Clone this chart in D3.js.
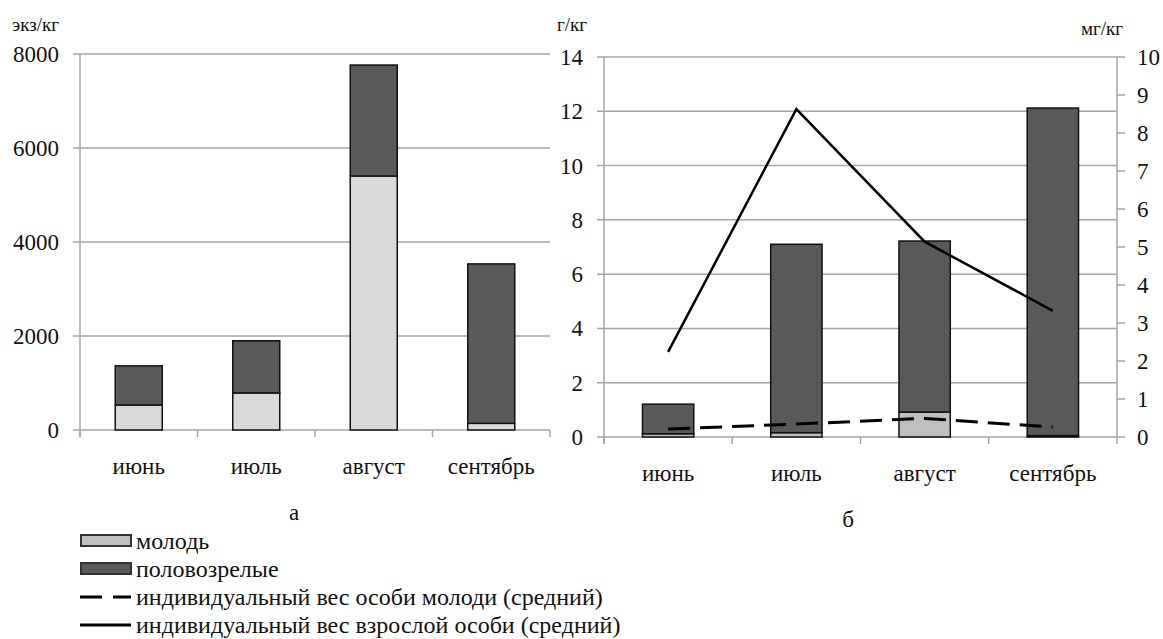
<!DOCTYPE html>
<html>
<head>
<meta charset="utf-8">
<script src="https://cdn.jsdelivr.net/npm/d3@7/dist/d3.min.js"></script>
<style>
  html, body { margin: 0; padding: 0; background: #fff; }
  svg { display: block; }
</style>
</head>
<body>
<svg id="chart" width="1163" height="639"></svg>
<script>
// Months of sampling
const months = ["июнь", "июль", "август", "сентябрь"];

// Panel а: abundance, экз/кг
const abundJuvenile = [533, 789, 5404, 142];
const abundAdult = [832, 1110, 2361, 3392];
const abundTicks = [0, 2000, 4000, 6000, 8000];

// Panel б: biomass, г/кг
const massJuvenile = [0.12, 0.16, 0.92, 0.05];
const massAdult = [1.09, 6.94, 6.30, 12.07];
const massTicks = [0, 2, 4, 6, 8, 10, 12, 14];

// Panel б: mean individual weight, мг/кг (right axis)
const weightJuvenile = [0.21, 0.34, 0.49, 0.26];
const weightAdult = [2.24, 8.63, 5.14, 3.32];
const weightTicks = [0, 1, 2, 3, 4, 5, 6, 7, 8, 9, 10];

const legendItems = [
  { label: "молодь", kind: "box", fill: "#bfbfbf" },
  { label: "половозрелые", kind: "box", fill: "#595959" },
  { label: "индивидуальный вес особи молоди (средний)", kind: "dash" },
  { label: "индивидуальный вес взрослой особи (средний)", kind: "line" }
];

const FONT = "Liberation Serif";
const svg = d3.select("#chart");
const GRID = "#a6a6a6";
const DARK = "#595959";
const INK = "#111";

function label(sel) {
  return sel.attr("font-family", FONT).attr("fill", INK);
}

function panel(opts) {
  const g = svg.append("g");
  const slot = d3.scaleBand().domain(months).range([opts.x0, opts.x1]).padding(0);
  const band = d3.scaleBand().domain(months).range([opts.x0, opts.x1])
    .paddingInner(0.6).paddingOuter(0.3);
  const y = d3.scaleLinear().domain([0, opts.max]).range([opts.yb, opts.yt]);

  // horizontal gridlines with outward tick stubs
  g.selectAll("line.grid").data(opts.ticks).join("line")
    .attr("x1", opts.x0 - 7).attr("x2", opts.gridEnd)
    .attr("y1", d => y(d)).attr("y2", d => y(d))
    .attr("stroke", GRID).attr("stroke-width", 1.5);

  // left axis line
  g.append("line").attr("x1", opts.x0).attr("x2", opts.x0)
    .attr("y1", opts.yt).attr("y2", opts.yb + 7)
    .attr("stroke", GRID).attr("stroke-width", 1.5);

  // left tick labels
  g.selectAll("text.yl").data(opts.ticks).join("text")
    .attr("x", opts.x0 - opts.labelGap).attr("y", d => y(d))
    .attr("dy", "0.35em").attr("text-anchor", "end")
    .attr("font-size", 23).call(label)
    .text(d => d);

  // category boundary ticks on the x axis
  const bounds = months.map(m => slot(m)).concat([opts.x1]);
  g.selectAll("line.xt").data(bounds).join("line")
    .attr("x1", d => d).attr("x2", d => d)
    .attr("y1", opts.yb).attr("y2", opts.yb + 7)
    .attr("stroke", GRID).attr("stroke-width", 1.5);

  // stacked bars
  months.forEach((m, i) => {
    const j = opts.juv[i], a = opts.adult[i];
    g.append("rect")
      .attr("x", band(m)).attr("width", band.bandwidth())
      .attr("y", y(j)).attr("height", y(0) - y(j))
      .attr("fill", opts.juvFill).attr("stroke", INK).attr("stroke-width", 1.5);
    g.append("rect")
      .attr("x", band(m)).attr("width", band.bandwidth())
      .attr("y", y(j + a)).attr("height", y(j) - y(j + a))
      .attr("fill", DARK).attr("stroke", INK).attr("stroke-width", 1.5);
  });

  // category labels
  g.selectAll("text.xl").data(months).join("text")
    .attr("x", d => slot(d) + slot.bandwidth() / 2)
    .attr("y", opts.yb + 44).attr("text-anchor", "middle")
    .attr("font-size", 23).call(label)
    .text(d => d);

  // unit label
  g.append("text").attr("x", opts.unitX).attr("y", 31)
    .attr("font-size", 19).call(label).text(opts.unit);

  // panel letter
  g.append("text").attr("x", opts.letterX).attr("y", opts.letterY)
    .attr("text-anchor", "middle").attr("font-size", 23).call(label)
    .text(opts.letter);

  return { g, slot, y };
}

// Panel а
panel({
  x0: 80, x1: 550, gridEnd: 550, yt: 54, yb: 430, max: 8000,
  ticks: abundTicks, juv: abundJuvenile, adult: abundAdult, juvFill: "#d9d9d9",
  labelGap: 21, unit: "экз/кг", unitX: 12, letter: "а", letterX: 294, letterY: 520
});

// Panel б
const pb = panel({
  x0: 604, x1: 1117, gridEnd: 1117, yt: 57, yb: 437, max: 14,
  ticks: massTicks, juv: massJuvenile, adult: massAdult, juvFill: "#bfbfbf",
  labelGap: 21, unit: "г/кг", unitX: 557, letter: "б", letterX: 848, letterY: 527
});

// Right axis of panel б
const yr = d3.scaleLinear().domain([0, 10]).range([437, 57]);
const ra = svg.append("g");
ra.append("line").attr("x1", 1117).attr("x2", 1117).attr("y1", 57).attr("y2", 437)
  .attr("stroke", GRID).attr("stroke-width", 1.5);
ra.selectAll("line.rt").data(weightTicks).join("line")
  .attr("x1", 1117).attr("x2", 1125).attr("y1", d => yr(d)).attr("y2", d => yr(d))
  .attr("stroke", GRID).attr("stroke-width", 1.5);
ra.selectAll("text.rl").data(weightTicks).join("text")
  .attr("x", 1137).attr("y", d => yr(d)).attr("dy", "0.35em")
  .attr("font-size", 23).call(label).text(d => d);
ra.append("text").attr("x", 1081).attr("y", 35)
  .attr("font-size", 19).call(label).text("мг/кг");

// Weight lines
const cx = m => pb.slot(m) + pb.slot.bandwidth() / 2;
const line = d3.line().x(d => cx(d.m)).y(d => yr(d.v));
svg.append("path")
  .datum(months.map((m, i) => ({ m, v: weightAdult[i] })))
  .attr("d", line).attr("fill", "none").attr("stroke", "#000").attr("stroke-width", 2.5);
svg.append("path")
  .datum(months.map((m, i) => ({ m, v: weightJuvenile[i] })))
  .attr("d", line).attr("fill", "none").attr("stroke", "#000").attr("stroke-width", 3)
  .attr("stroke-dasharray", "22,10");

// Legend
const lg = svg.append("g");
const rowY = [541, 569, 597, 625];
legendItems.forEach((it, i) => {
  const yy = rowY[i];
  if (it.kind === "box") {
    lg.append("rect").attr("x", 81).attr("y", yy - 6).attr("width", 50).attr("height", 11)
      .attr("fill", it.fill).attr("stroke", "#333").attr("stroke-width", 2);
  } else {
    lg.append("line").attr("x1", 80).attr("x2", 131).attr("y1", yy).attr("y2", yy)
      .attr("stroke", "#000").attr("stroke-width", 3)
      .attr("stroke-dasharray", it.kind === "dash" ? "22,11" : null);
  }
  lg.append("text").attr("x", 136).attr("y", yy).attr("dy", "0.33em")
    .attr("font-size", 24).call(label).text(it.label);
});
</script>
</body>
</html>
